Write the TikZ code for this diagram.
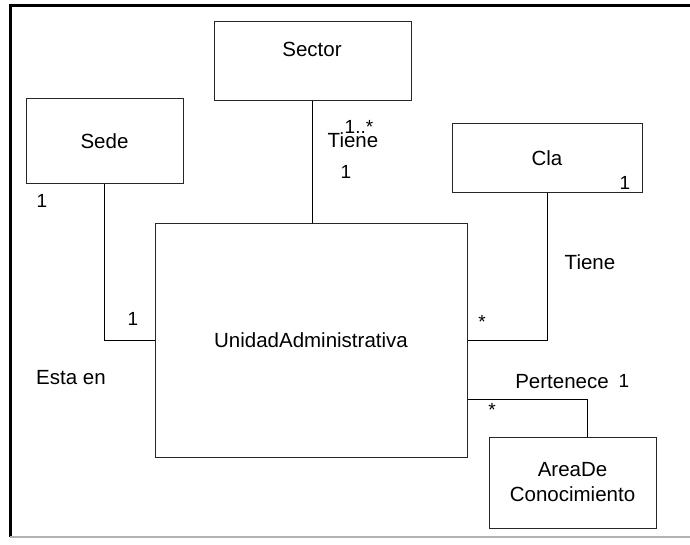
\documentclass[tikz,border=0pt]{standalone}
\usepackage{fontspec}
\setmainfont{Liberation Sans}
\usetikzlibrary{positioning}

\begin{document}
\begin{tikzpicture}[
  x=1pt,y=-1pt,
  clase/.style={draw=black!85,line width=1pt,inner sep=0pt},
  enlace/.style={line width=1pt},
  texto/.style={font=\fontsize{20.5}{25}\selectfont,inner sep=0pt,align=center},
  mult/.style={font=\fontsize{19}{22}\selectfont,inner sep=0pt}
]
  \useasboundingbox (0,0) rectangle (690,545);
  \draw[line width=3pt] (690,6) -- (10,6) -- (10,537);
  \draw[black!30,line width=2pt] (10,537) -- (690,537);

  \node[clase,minimum width=197pt,minimum height=79pt] (sector) at (312.5,61.5) {};
  \node[texto] (sectortxt) at (312,49) {Sector};
  \node[clase,texto,minimum width=157pt,minimum height=85pt] (sede) at (104.5,141.5) {Sede};
  \node[clase,texto,minimum width=190pt,minimum height=69pt] (cla) at (547,158.5) {Cla};
  \node[clase,texto,minimum width=312pt,minimum height=233pt] (unidad) at (311,340.5) {UnidadAdministrativa};
  \node[clase,texto,minimum width=167pt,minimum height=91pt] (area) at (572.5,482.5) {AreaDe\\Conocimiento};

  \draw[enlace] (sector.south -| sectortxt) -- (sectortxt |- unidad.north);
  \draw[enlace] (sede.south) |- (unidad.west);
  \draw[enlace] (cla.south) |- (unidad.east);
  \draw[enlace] ([yshift=-58.5pt]unidad.east) -| ([xshift=14.5pt]area.north);

  \node[mult] (m1) at (42,201) {1};
  \node[mult] (m2) at (133,319) {1};
  \node[texto] (estaen) at (71,378) {Esta en};
  \node[mult] (m3) at (359,127) {1..*};
  \node[texto] (tiene1) at (353,140) {Tiene};
  \node[mult] (m4) at (346,172) {1};
  \node[mult] (m5) at (625,183) {1};
  \node[texto] (tiene2) at (590,262) {Tiene};
  \node[mult] (m6) at (482,322) {*};
  \node[texto] (pertenece) at (562,382) {Pertenece};
  \node[mult] (m7) at (624,381) {1};
  \node[mult] (m8) at (492,410) {*};
\end{tikzpicture}
\end{document}
